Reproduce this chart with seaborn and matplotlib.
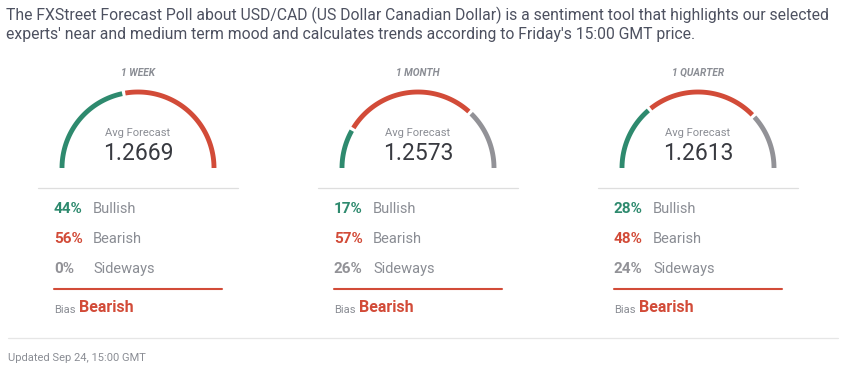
import numpy as np
import pandas as pd
import matplotlib.pyplot as plt
import seaborn as sns

periods = ['1 WEEK', '1 MONTH', '1 QUARTER']
avg_forecast = ['1.2669', '1.2573', '1.2613']
bullish = [44, 17, 28]
bearish = [56, 57, 48]
sideways = [0, 26, 24]
bias = ['Bearish', 'Bearish', 'Bearish']

header = ("The FXStreet Forecast Poll about USD/CAD (US Dollar Canadian Dollar) is a sentiment tool that highlights our selected\n"
          "experts' near and medium term mood and calculates trends according to Friday's 15:00 GMT price.")
updated = 'Updated Sep 24, 15:00 GMT'

GREEN = '#2e8a6e'
RED = '#d24b38'
GREY = '#929297'
TXT = '#8a8d94'

sns.set_theme(style='white')
plt.rcParams['font.family'] = ['Roboto', 'DejaVu Sans']

fig = plt.figure(figsize=(8.5, 3.78), dpi=100)
ax = fig.add_axes([0, 0, 1, 1])
ax.set_xlim(0, 850)
ax.set_ylim(378, 0)
ax.axis('off')

ax.text(6, 15, header.split('\n')[0], fontsize=11.3, color='#4d5160', va='center', ha='left')
ax.text(6, 35, header.split('\n')[1], fontsize=11.3, color='#4d5160', va='center', ha='left')

r = 76
gap = 1.2
for i, p in enumerate(periods):
    cx = 138 + 280 * i
    cy = 168
    ax.text(cx, 73, p, fontsize=7.3, color=TXT, style='italic', weight='bold', ha='center', va='center')

    # gauge: bullish from the left, then bearish, then sideways
    start = 180.0
    for pct, col in [(bullish[i], GREEN), (bearish[i], RED), (sideways[i], GREY)]:
        if pct == 0:
            continue
        end = start - 180.0 * pct / 100
        a0 = start - (gap if start < 180 else 0)
        a1 = end + (gap if end > 0.01 else 0)
        th = np.radians(np.linspace(a0, a1, 80))
        seg = pd.DataFrame({'x': cx + r * np.cos(th), 'y': cy - r * np.sin(th)})
        sns.lineplot(data=seg, x='x', y='y', sort=False, color=col, linewidth=3.5, ax=ax,
                     solid_capstyle='butt')
        start = end

    ax.text(cx, 133, 'Avg Forecast', fontsize=8, color=TXT, ha='center', va='center')
    ax.text(cx, 153, avg_forecast[i], fontsize=16.5, color='#383a40', ha='center', va='center')

    sep = pd.DataFrame({'x': [cx - 100, cx + 100], 'y': [188, 188]})
    sns.lineplot(data=sep, x='x', y='y', color='#dedede', linewidth=0.9, ax=ax)

    px = 54 + 280 * i
    rows = [(bullish[i], 'Bullish', GREEN), (bearish[i], 'Bearish', RED), (sideways[i], 'Sideways', GREY)]
    for k, (v, lab, col) in enumerate(rows):
        y = 209 + 30 * k
        ax.text(px, y, f'{v}%', fontsize=11, weight='bold', color=col, ha='left', va='center')
        ax.text(px + 39, y, lab, fontsize=10.5, color=TXT, ha='left', va='center')

    bl = pd.DataFrame({'x': [px, px + 168], 'y': [289, 289]})
    sns.lineplot(data=bl, x='x', y='y', color=RED, linewidth=1.5, ax=ax)
    ax.text(px, 310, 'Bias', fontsize=8, color=TXT, ha='left', va='center')
    ax.text(px + 25, 308, bias[i], fontsize=11.5, weight='bold', color=RED, ha='left', va='center')

foot = pd.DataFrame({'x': [8, 838], 'y': [338, 338]})
sns.lineplot(data=foot, x='x', y='y', color='#e6e6e6', linewidth=0.9, ax=ax)
ax.text(8, 358, updated, fontsize=8, color=TXT, ha='left', va='center')

fig.savefig('out.png', dpi=100)
